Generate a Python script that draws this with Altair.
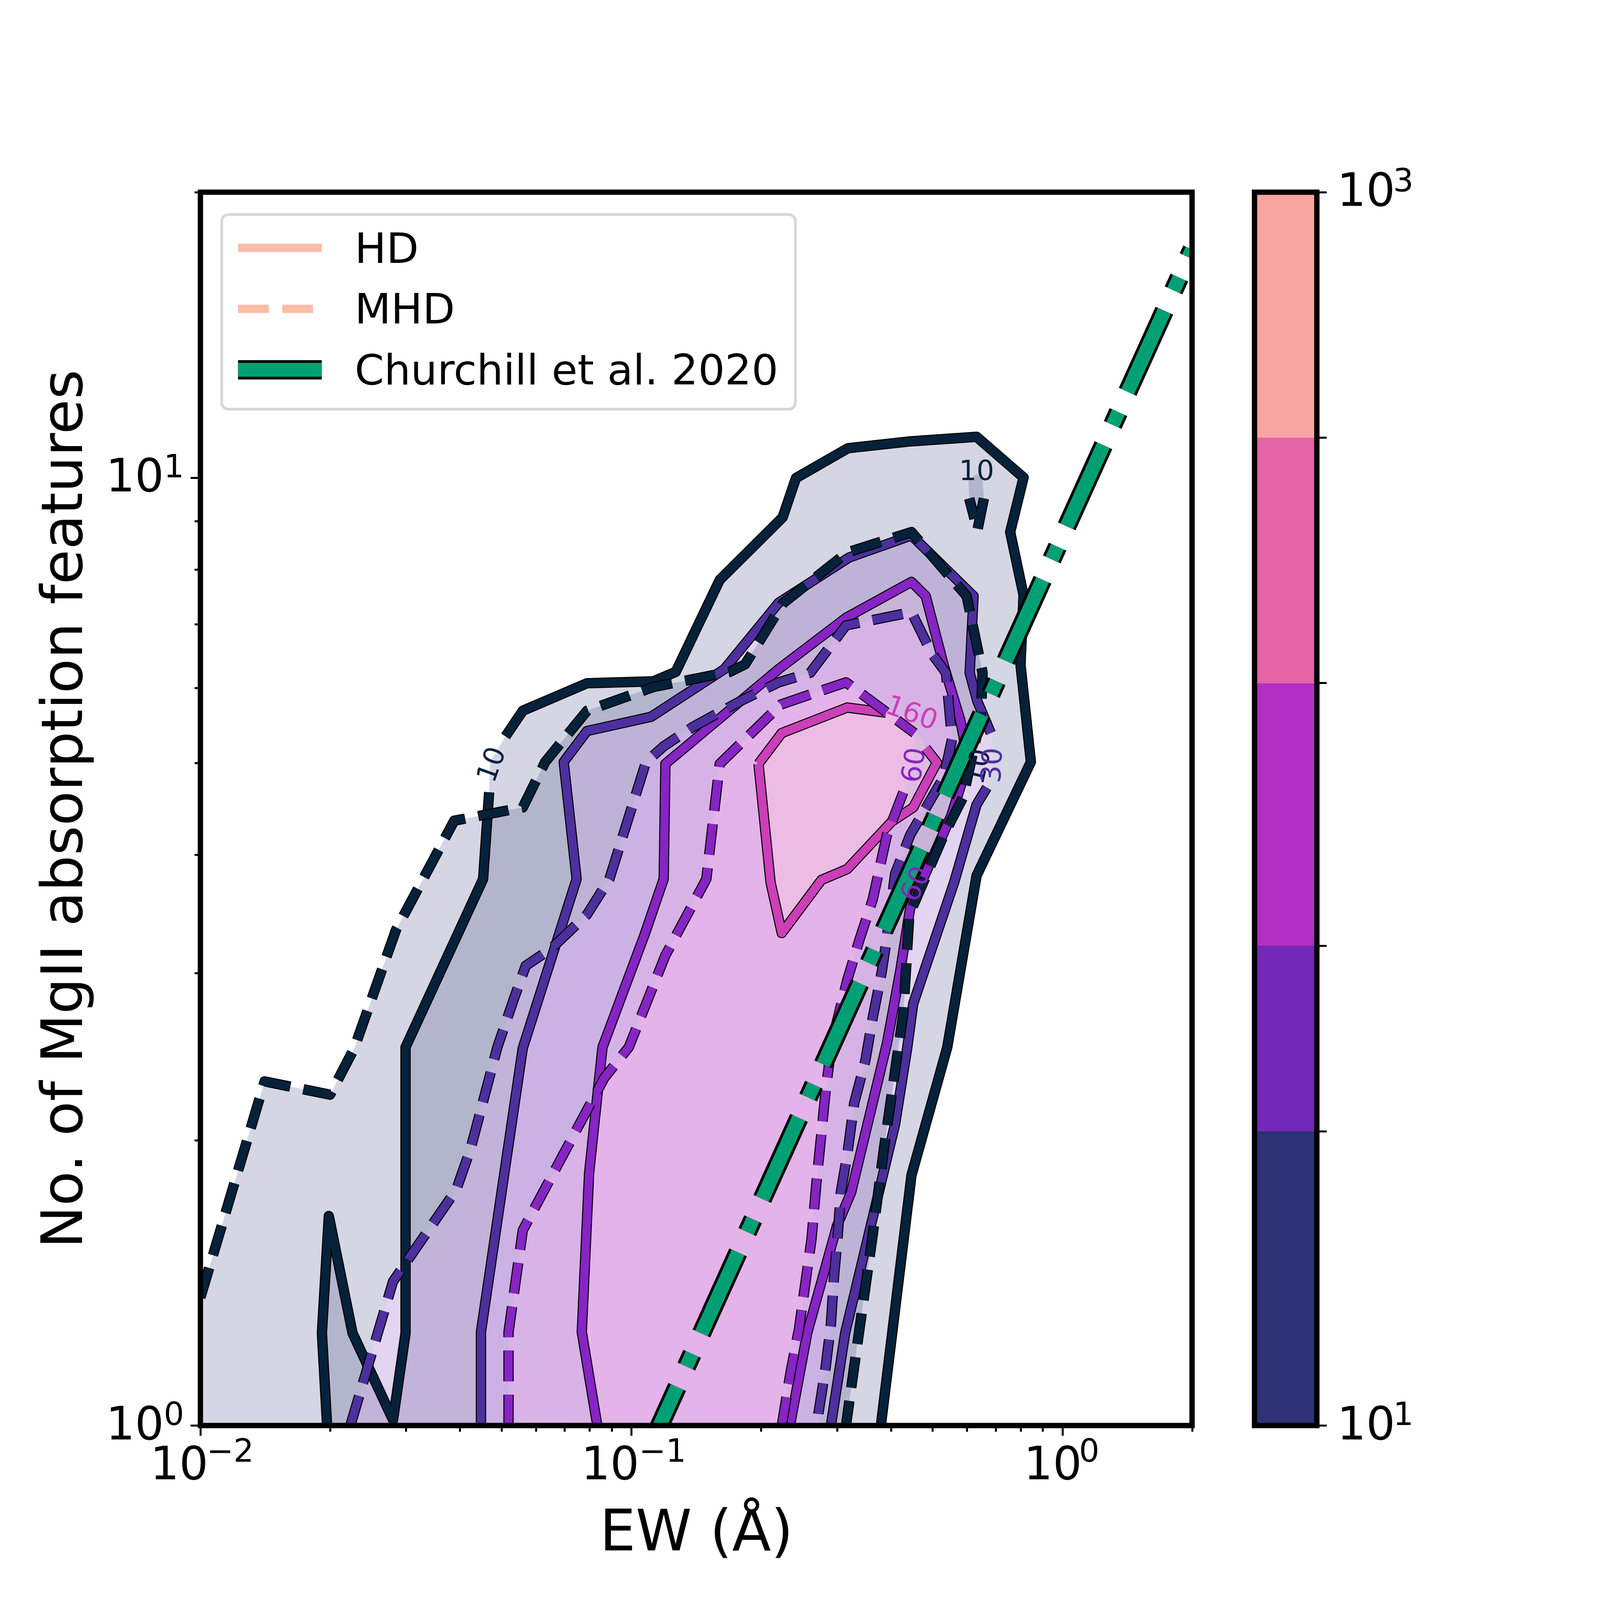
import altair as alt
import numpy as np
import pandas as pd

# contour vertices, as log10(EW) and log10(N)
hd10_x = [-1.706, -1.718, -1.702, -1.647, -1.553, -1.524, -1.524, -1.344, -1.330, -1.328, -1.292, -1.252, -1.103, -0.949, -0.897, -0.795, -0.649, -0.618, -0.497, -0.357, -0.199, -0.090, -0.121, -0.090, -0.097, -0.073, -0.199, -0.267, -0.350, -0.421]
hd10_y = [0, 0.0975, 0.221, 0.0975, 0.006, 0.0975, 0.399, 0.5765, 0.668, 0.700, 0.727, 0.754, 0.783, 0.785, 0.795, 0.892, 0.958, 0.9995, 1.031, 1.038, 1.043, 1.0, 0.9425, 0.876, 0.8025, 0.700, 0.580, 0.399, 0.264, 0]

mhd10_x = [-2.0, -2.0, -1.851, -1.699, -1.643, -1.546, -1.411, -1.252, -1.2, -1.103, -0.949, -0.772, -0.736, -0.649, -0.499, -0.350, -0.222, -0.185, -0.189, -0.230, -0.275, -0.355, -0.369, -0.414, -0.440, -0.483, -0.502]
mhd10_y = [0, 0.135, 0.363, 0.349, 0.398, 0.523, 0.638, 0.652, 0.700, 0.754, 0.779, 0.795, 0.803, 0.867, 0.921, 0.9425, 0.875, 0.794, 0.748, 0.663, 0.623, 0.539, 0.4345, 0.292, 0.201, 0.062, 0]

island_x = [-0.216, -0.218, -0.199, -0.185, -0.182, -0.197]
island_y = [0.978, 0.9965, 1.004, 0.9965, 0.978, 0.9445]

hd30_x = [-1.349, -1.349, -1.252, -1.127, -1.157, -1.103, -0.954, -0.784, -0.658, -0.495, -0.350, -0.206, -0.215, -0.197, -0.166, -0.161, -0.175, -0.199, -0.251, -0.346, -0.360, -0.388, -0.504, -0.537]
hd30_y = [0, 0.0986, 0.398, 0.5765, 0.700, 0.7326, 0.7477, 0.798, 0.868, 0.9156, 0.939, 0.875, 0.794, 0.7638, 0.7305, 0.698, 0.673, 0.655, 0.573, 0.445, 0.398, 0.318, 0.0975, 0]

mhd30_x = [-1.652, -1.553, -1.406, -1.373, -1.311, -1.273, -1.245, -1.186, -1.103, -1.051, -0.966, -0.925, -0.857, -0.748, -0.658, -0.585, -0.502, -0.350, -0.303, -0.270, -0.256, -0.275, -0.353, -0.388, -0.407, -0.419, -0.440, -0.457, -0.483, -0.499, -0.514, -0.521, -0.530, -0.537, -0.549, -0.566, -0.568]
mhd30_y = [0, 0.152, 0.249, 0.292, 0.399, 0.4495, 0.485, 0.503, 0.539, 0.5765, 0.700, 0.7165, 0.737, 0.764, 0.784, 0.794, 0.844, 0.858, 0.8145, 0.794, 0.724, 0.684, 0.623, 0.582, 0.515, 0.4786, 0.430, 0.385, 0.340, 0.286, 0.246, 0.201, 0.1556, 0.107, 0.062, 0.0125, 0]

hd60_x = [-1.079, -1.115, -1.098, -1.067, -0.970, -0.925, -0.921, -0.658, -0.502, -0.350, -0.317, -0.275, -0.237, -0.218, -0.258, -0.353, -0.376, -0.407, -0.490, -0.523, -0.592, -0.632]
hd60_y = [0, 0.0986, 0.2665, 0.399, 0.517, 0.5765, 0.698, 0.798, 0.852, 0.890, 0.875, 0.8015, 0.7445, 0.700, 0.643, 0.546, 0.4797, 0.403, 0.246, 0.2105, 0.0975, 0]

mhd60_x = [-1.285, -1.285, -1.252, -1.063, -1.006, -0.921, -0.826, -0.795, -0.653, -0.502, -0.343, -0.343, -0.369, -0.407, -0.440, -0.469, -0.499, -0.535, -0.549, -0.559, -0.570, -0.582, -0.596, -0.611, -0.630, -0.651]
mhd60_y = [0, 0.0986, 0.206, 0.3666, 0.399, 0.496, 0.5765, 0.698, 0.7606, 0.784, 0.7305, 0.700, 0.668, 0.623, 0.555, 0.515, 0.470, 0.404, 0.3537, 0.3085, 0.259, 0.1966, 0.151, 0.102, 0.0577, 0]

hd160_x = [-0.705, -0.651, -0.499, -0.409, -0.353, -0.317, -0.291, -0.346, -0.396, -0.499, -0.559, -0.651, -0.677]
hd160_y = [0.698, 0.7305, 0.7574, 0.752, 0.7475, 0.7145, 0.6995, 0.652, 0.637, 0.587, 0.5755, 0.5195, 0.573]

# Churchill et al. 2020 relation
churchill_ew = [0.105, 2.0]
churchill_n = [0.902, 17.4]

levels = [10, 30, 60, 160, 400, 1000]
band_colors = ['#2e3175', '#7228b8', '#b22fc4', '#e564a6', '#f8a5a2']
line_10, line_30, line_60, line_160 = '#06213a', '#4e2f9e', '#8724c4', '#cb3fb8'
green = '#01a074'
peach = '#fbbca8'

x_ticks = [0.01, 0.02, 0.03, 0.04, 0.05, 0.06, 0.07, 0.08, 0.09, 0.1, 0.2, 0.3, 0.4, 0.5, 0.6, 0.7, 0.8, 0.9, 1, 2]
y_ticks = [1, 2, 3, 4, 5, 6, 7, 8, 9, 10, 20]

# tick exponents, the "10" comes from the axes
x_exp = [(0.01, '−2', 19), (0.1, '−1', 23), (1, '0', 50)]
y_exp = [(1, '0'), (10, '1')]
bar_exp = [(10, '1'), (1000, '3')]

# clabel text: label, log10 EW, log10 N, rotation, colour
labels = [
    ('10', -1.323, 0.697, 290, line_10),
    ('10', -0.199, 1.006, 0, line_10),
    ('160', -0.350, 0.751, 20, line_160),
    ('60', -0.343, 0.6965, 279, line_60),
    ('10', -0.194, 0.695, 283, line_10),
    ('30', -0.161, 0.6965, 273, line_30),
    ('60', -0.339, 0.571, 295, line_60),
]

legend_text = ['HD', 'MHD', 'Churchill et al. 2020']

# the page is photographed at 4096 px, sizes below are in reference pixels times S
S = 4096 / 4800
W, H = 2975 * S, 3700 * S
FONT = 'DejaVu Sans'
DASH = [92.5 * S, 40 * S]
TICK_FONT = 137 * S
EXP_FONT = 96 * S
TITLE_FONT = 170.6 * S
one = pd.DataFrame({'a': [0]})

x_scale = alt.Scale(type='log', domain=[0.01, 2], nice=False)
y_scale = alt.Scale(type='log', domain=[1, 20], nice=False)
bar_scale = alt.Scale(type='log', domain=[10, 1000], nice=False)

x_enc = alt.X('ew:Q', scale=x_scale, axis=alt.Axis(
    title='EW (Å)', values=x_ticks, grid=False, domain=False, tickColor='black', tickWidth=6 * S,
    tickSize={'condition': {'test': 'indexof([0.01, 0.1, 1], datum.value) >= 0', 'value': 30 * S}, 'value': 18 * S},
    labelExpr="indexof([0.01, 0.1, 1], datum.value) >= 0 ? '10' : ''",
    labelAlign='right', labelOffset={'condition': {'test': 'datum.value == 1', 'value': 58 * S}, 'value': 23 * S},
    labelFlush=False, labelOverlap=False, labelLimit=1000, labelPadding=23 * S, labelFontSize=TICK_FONT,
    labelColor='black', labelFont=FONT,
    titleFontSize=TITLE_FONT, titleFont=FONT, titleFontWeight='normal', titleColor='black', titlePadding=52 * S))
y_enc = alt.Y('n:Q', scale=y_scale, axis=alt.Axis(
    title='No. of MgII absorption features', values=y_ticks, grid=False, domain=False, tickColor='black', tickWidth=6 * S,
    tickSize={'condition': {'test': 'indexof([1, 10], datum.value) >= 0', 'value': 30 * S}, 'value': 18 * S},
    labelExpr="indexof([1, 10], datum.value) >= 0 ? '10' : ''",
    labelFlush=False, labelOverlap=False, labelLimit=1000, labelPadding=80 * S, labelFontSize=TICK_FONT,
    labelColor='black', labelFont=FONT,
    titleFontSize=TITLE_FONT, titleFont=FONT, titleFontWeight='normal', titleColor='black', titlePadding=85 * S))


def band(outer, inner=None, closed=False):
    xs, ys = list(outer[0]), list(outer[1])
    xs.append(xs[0])
    ys.append(ys[0])
    if inner is not None:
        ix, iy = list(inner[0]), list(inner[1])
        if closed:
            ix.append(ix[0])
            iy.append(iy[0])
        xs += ix[::-1]
        ys += iy[::-1]
    return pd.DataFrame({'ew': 10 ** np.array(xs), 'n': 10 ** np.array(ys), 'i': range(len(xs))})


def contour(ring, gaps=(), closed=False):
    xs, ys = list(ring[0]), list(ring[1])
    if closed:
        xs.append(xs[0])
        ys.append(ys[0])
    rows = []
    piece = 0
    for i, (a, b) in enumerate(zip(xs, ys)):
        if any(g[0] < i < g[1] for g in gaps):
            continue
        rows.append({'ew': 10 ** a, 'n': 10 ** b, 'i': i, 'piece': piece})
        if any(g[0] == i for g in gaps):
            piece += 1
    return pd.DataFrame(rows)


hd10, mhd10, island = (hd10_x, hd10_y), (mhd10_x, mhd10_y), (island_x, island_y)
hd30, mhd30 = (hd30_x, hd30_y), (mhd30_x, mhd30_y)
hd60, mhd60 = (hd60_x, hd60_y), (mhd60_x, mhd60_y)
hd160 = (hd160_x, hd160_y)

layers = []

# filled bands, drawn with alpha 0.2 like the contourf
for df, col in [
    (band(hd10, hd30), band_colors[0]),
    (band(hd30, hd60), band_colors[1]),
    (band(hd60, hd160, closed=True), band_colors[2]),
    (band(hd160), band_colors[3]),
    (band(mhd10, mhd30), band_colors[0]),
    (band(island), band_colors[0]),
    (band(mhd30, mhd60), band_colors[1]),
    (band(mhd60), band_colors[2]),
]:
    layers.append(alt.Chart(df).mark_line(fill=col, fillOpacity=0.2, stroke='transparent', strokeWidth=0, clip=True).encode(
        x=x_enc, y=y_enc, order='i:Q'))

# contour lines with their black edge
for df, col, dash in [
    (contour(hd10, gaps=[(8, 10)]), line_10, None),
    (contour(hd30, gaps=[(14, 16)]), line_30, None),
    (contour(hd60), line_60, None),
    (contour(hd160, gaps=[(3, 5)], closed=True), line_160, None),
    (contour(mhd10, gaps=[(0, 1)]), line_10, DASH),
    (contour(island, gaps=[(0, 4)], closed=True), line_10, DASH),
    (contour(mhd30), line_30, DASH),
    (contour(mhd60, gaps=[(10, 12)]), line_60, DASH),
]:
    for c, w in [('black', 31 * S), (col, 25 * S)]:
        props = dict(color=c, strokeWidth=w, strokeCap='butt', strokeJoin='round', clip=True)
        if dash:
            props['strokeDash'] = dash
        layers.append(alt.Chart(df).mark_line(**props).encode(x=x_enc, y=y_enc, order='i:Q', detail='piece:N'))

# green relation
df_green = pd.DataFrame({'ew': churchill_ew, 'n': churchill_n})
for c, w in [('black', 58 * S), (green, 41.7 * S)]:
    layers.append(alt.Chart(df_green).mark_line(
        color=c, strokeWidth=w, strokeDash=[267 * S, 67 * S, 42 * S, 67 * S], strokeCap='butt', clip=True).encode(
        x=x_enc, y=y_enc))

# contour labels
for t, lx, ly, ang, col in labels:
    df = pd.DataFrame({'ew': [10 ** lx], 'n': [10 ** ly], 't': [t]})
    layers.append(alt.Chart(df).mark_text(fontSize=83 * S, font=FONT, color=col, angle=ang).encode(x=x_enc, y=y_enc, text='t:N'))

# legend
layers.append(alt.Chart(one).mark_rect(fill='white', fillOpacity=0.8, stroke='#d6d6d6', strokeWidth=8 * S, cornerRadius=20 * S).encode(
    x=alt.value(64 * S), x2=alt.value(1785 * S), y=alt.value(67 * S), y2=alt.value(651 * S)))
layers.append(alt.Chart(one).mark_rule(color=peach, strokeWidth=25 * S, strokeCap='butt').encode(
    x=alt.value(113 * S), x2=alt.value(364 * S), y=alt.value(167 * S)))
layers.append(alt.Chart(one).mark_rule(color=peach, strokeWidth=25 * S, strokeDash=DASH, strokeCap='butt').encode(
    x=alt.value(113 * S), x2=alt.value(364 * S), y=alt.value(350 * S)))
layers.append(alt.Chart(one).mark_rule(color='black', strokeWidth=58 * S, strokeCap='butt').encode(
    x=alt.value(113 * S), x2=alt.value(364 * S), y=alt.value(533 * S)))
layers.append(alt.Chart(one).mark_rule(color=green, strokeWidth=41.7 * S, strokeCap='butt').encode(
    x=alt.value(113 * S), x2=alt.value(364 * S), y=alt.value(533 * S)))
for t, yy in zip(legend_text, [212, 394, 576]):
    layers.append(alt.Chart(pd.DataFrame({'t': [t]})).mark_text(
        align='left', baseline='alphabetic', fontSize=126 * S, font=FONT, color='black').encode(
        x=alt.value(463 * S), y=alt.value(yy * S), text='t:N'))

# frame on top
layers.append(alt.Chart(one).mark_rect(fill='transparent', stroke='black', strokeWidth=16 * S).encode(
    x=alt.value(0), x2=alt.value(W), y=alt.value(0), y2=alt.value(H)))

# tick exponents
for v, t, dx in x_exp:
    layers.append(alt.Chart(pd.DataFrame({'ew': [v], 't': [t]})).mark_text(
        align='left', baseline='alphabetic', dx=dx * S, fontSize=EXP_FONT, font=FONT, color='black').encode(
        x=x_enc, y=alt.value(H + 109 * S), text='t:N'))
for v, t in y_exp:
    layers.append(alt.Chart(pd.DataFrame({'n': [v], 't': [t]})).mark_text(
        align='left', baseline='alphabetic', dy=-1 * S, fontSize=EXP_FONT, font=FONT, color='black').encode(
        x=alt.value(-110 * S), y=y_enc, text='t:N'))

main = alt.layer(*layers).properties(width=W, height=H)

# colour bar
bar_y = alt.Y('lo:Q', scale=bar_scale, axis=alt.Axis(
    orient='right', title=None, values=levels, grid=False, domain=False, tickColor='black', tickWidth=6 * S, tickSize=29 * S,
    labelExpr="datum.value == 10 || datum.value == 1000 ? '10' : ''",
    labelFlush=False, labelOverlap=False, labelLimit=1000, labelPadding=31 * S, labelFontSize=TICK_FONT,
    labelColor='black', labelFont=FONT))
bar_df = pd.DataFrame({'lo': levels[:-1], 'hi': levels[1:]})
bar = alt.Chart(bar_df).mark_rect().encode(
    x=alt.value(0), x2=alt.value(187 * S),
    y=bar_y,
    y2='hi:Q',
    color=alt.Color('lo:N', scale=alt.Scale(domain=levels[:-1], range=band_colors), legend=None))
bar_frame = alt.Chart(one).mark_rect(fill='transparent', stroke='black', strokeWidth=16 * S).encode(
    x=alt.value(0), x2=alt.value(187 * S), y=alt.value(0), y2=alt.value(H))
bar_layers = [bar, bar_frame]
for v, t in bar_exp:
    bar_layers.append(alt.Chart(pd.DataFrame({'lo': [v], 't': [t]})).mark_text(
        align='left', baseline='alphabetic', dy=-2 * S, fontSize=EXP_FONT, font=FONT, color='black').encode(
        x=alt.value(416 * S), y=bar_y, text='t:N'))
cbar = alt.layer(*bar_layers).properties(width=187 * S, height=H)

chart = alt.hconcat(main, cbar, spacing=187 * S, bounds='flush').properties(
    padding={'left': 85, 'top': 416, 'right': 5, 'bottom': 5}
).configure_view(strokeWidth=0)

chart.save("out.html", embed_options={"renderer": "svg", "actions": False})
